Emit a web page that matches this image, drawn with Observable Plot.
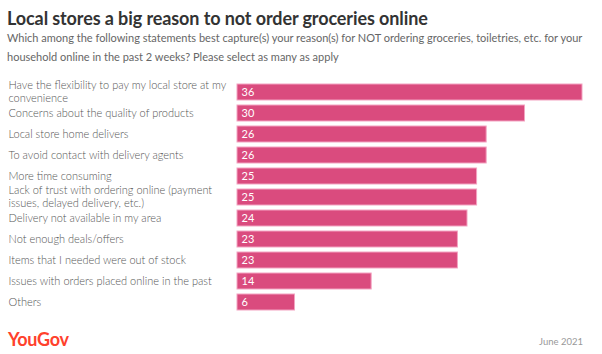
<!DOCTYPE html>
<html>
<head>
<meta charset="utf-8">
<script src="https://cdn.jsdelivr.net/npm/d3@7"></script>
<script src="https://cdn.jsdelivr.net/npm/@observablehq/plot@0.6"></script>
<style>
  body { margin: 0; background: #fff; width: 602px; height: 354px; overflow: hidden; position: relative; font-family: Lato, "Open Sans", sans-serif; }
  #title { position: absolute; left: 7px; top: 6px; font-size: 18px; font-weight: 700; color: #333; line-height: 24px; white-space: nowrap; letter-spacing: -0.1px; }
  #subtitle { position: absolute; left: 7px; top: 29px; width: 595px; font-size: 11px; color: #666; line-height: 18.5px; font-weight: 400; }
  #chart { position: absolute; left: 0; top: 74px; }
  #logo { position: absolute; left: 8px; top: 329px; font-size: 18px; font-weight: 700; color: #ff412c; line-height: 20px; letter-spacing: -0.3px; }
  #date { position: absolute; right: 19px; top: 336px; font-size: 9.5px; color: #999; line-height: 12px; }
</style>
</head>
<body>
<div id="title">Local stores a big reason to not order groceries online</div>
<div id="subtitle">Which among the following statements best capture(s) your reason(s) for NOT ordering groceries, toiletries, etc. for your household online in the past 2 weeks? Please select as many as apply</div>
<div id="chart"></div>
<div id="logo">YouGov</div>
<div id="date">June 2021</div>
<script>
const categories = [
  "Have the flexibility to pay my local store at my\nconvenience",
  "Concerns about the quality of products",
  "Local store home delivers",
  "To avoid contact with delivery agents",
  "More time consuming",
  "Lack of trust with ordering online (payment\nissues, delayed delivery, etc.)",
  "Delivery not available in my area",
  "Not enough deals/offers",
  "Items that I needed were out of stock",
  "Issues with orders placed online in the past",
  "Others"
];
const values = [36, 30, 26, 26, 25, 25, 24, 23, 23, 14, 6];

const data = categories.map((c, i) => ({category: c, value: values[i]}));

const chart = Plot.plot({
  width: 602,
  height: 247,
  marginLeft: 237,
  marginRight: 20,
  marginTop: 0,
  marginBottom: 0,
  style: {fontFamily: "Lato, 'Open Sans', sans-serif", background: "transparent"},
  x: {domain: [0, 36], axis: null},
  y: {domain: categories, padding: 0.23, axis: null},
  marks: [
    Plot.barX(data, {y: "category", x: "value", fill: "#da4b7e", stroke: "#f3a3c1", strokeWidth: 1}),
    Plot.text(data, {y: "category", text: "category", frameAnchor: "left", textAnchor: "start", dx: -229, dy: -1, fontSize: 11, fontWeight: 300, fill: "#555", lineHeight: 1.18}),
    Plot.text(data, {y: "category", x: 0, text: d => String(d.value), textAnchor: "start", dx: 4, fontSize: 11, fill: "#fff"})
  ]
});
document.getElementById("chart").appendChild(chart);
</script>
</body>
</html>
